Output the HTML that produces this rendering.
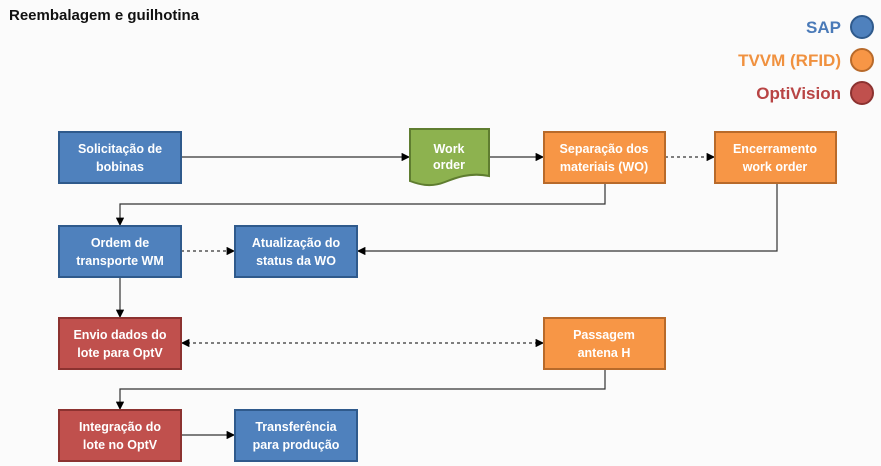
<!DOCTYPE html>
<html><head><meta charset="utf-8"><style>
html,body{margin:0;padding:0;background:#fbfbfb;}
svg{display:block;font-family:"Liberation Sans",sans-serif;}
.t{fill:#fff;font-weight:bold;font-size:12.5px;text-anchor:middle;}
</style></head><body>
<svg width="881" height="466" viewBox="0 0 881 466">
<defs>
<marker id="a" viewBox="0 0 10 10" refX="10" refY="5" markerWidth="7" markerHeight="7" orient="auto-start-reverse"><path d="M0,0L10,5L0,10z" fill="#000"/></marker>
</defs>
<rect width="881" height="466" fill="#fbfbfb"/>
<text x="9" y="20" font-size="15" font-weight="bold" fill="#111">Reembalagem e guilhotina</text>
<g font-size="17" font-weight="bold" text-anchor="end">
<text x="841" y="33" fill="#4a7ab8">SAP</text>
<text x="841" y="66" fill="#f0913f">TVVM (RFID)</text>
<text x="841" y="99" fill="#b84444">OptiVision</text>
</g>
<circle cx="862" cy="27" r="11" fill="#4f81bd" stroke="#2f5a8c" stroke-width="2"/>
<circle cx="862" cy="60" r="11" fill="#f79646" stroke="#b86a2a" stroke-width="2"/>
<circle cx="862" cy="93" r="11" fill="#c0504d" stroke="#8c3230" stroke-width="2"/>

<g stroke="#333" stroke-width="1.2" fill="none">
<line x1="181" y1="157" x2="410" y2="157" marker-end="url(#a)"/>
<line x1="489" y1="157" x2="544" y2="157" marker-end="url(#a)"/>
<line x1="665" y1="157" x2="715" y2="157" stroke-dasharray="3,3" marker-end="url(#a)"/>
<polyline points="605,183 605,204 120,204 120,226" marker-end="url(#a)"/>
<polyline points="777,183 777,251 357,251" marker-end="url(#a)"/>
<line x1="181" y1="251" x2="235" y2="251" stroke-dasharray="3,3" marker-end="url(#a)"/>
<line x1="120" y1="277" x2="120" y2="318" marker-end="url(#a)"/>
<line x1="181" y1="343" x2="544" y2="343" stroke-dasharray="3,3" marker-start="url(#a)" marker-end="url(#a)"/>
<polyline points="605,369 605,389 120,389 120,410" marker-end="url(#a)"/>
<line x1="181" y1="435" x2="235" y2="435" marker-end="url(#a)"/>
</g>

<g stroke-width="2">
<rect x="59" y="132" width="122" height="51" fill="#4f81bd" stroke="#2f5a8c"/>
<rect x="544" y="132" width="121" height="51" fill="#f79646" stroke="#b86a2a"/>
<rect x="715" y="132" width="121" height="51" fill="#f79646" stroke="#b86a2a"/>
<rect x="59" y="226" width="122" height="51" fill="#4f81bd" stroke="#2f5a8c"/>
<rect x="235" y="226" width="122" height="51" fill="#4f81bd" stroke="#2f5a8c"/>
<rect x="59" y="318" width="122" height="51" fill="#c0504d" stroke="#8c3230"/>
<rect x="544" y="318" width="121" height="51" fill="#f79646" stroke="#b86a2a"/>
<rect x="59" y="410" width="122" height="51" fill="#c0504d" stroke="#8c3230"/>
<rect x="235" y="410" width="122" height="51" fill="#4f81bd" stroke="#2f5a8c"/>
<path d="M410,129 L489,129 L489,176 C470,172 455,178 445,182 C430,188 418,184 410,181 Z" fill="#8db24f" stroke="#5f7d30"/>
</g>

<text class="t" x="120" y="153">Solicitação de</text><text class="t" x="120" y="171">bobinas</text>
<text class="t" x="449" y="153">Work</text><text class="t" x="449" y="169">order</text>
<text class="t" x="604" y="153">Separação dos</text><text class="t" x="604" y="171">materiais (WO)</text>
<text class="t" x="775" y="153">Encerramento</text><text class="t" x="775" y="171">work order</text>
<text class="t" x="120" y="247">Ordem de</text><text class="t" x="120" y="265">transporte WM</text>
<text class="t" x="296" y="247">Atualização do</text><text class="t" x="296" y="265">status da WO</text>
<text class="t" x="120" y="339">Envio dados do</text><text class="t" x="120" y="357">lote para OptV</text>
<text class="t" x="604" y="339">Passagem</text><text class="t" x="604" y="357">antena H</text>
<text class="t" x="120" y="431">Integração do</text><text class="t" x="120" y="449">lote no OptV</text>
<text class="t" x="296" y="431">Transferência</text><text class="t" x="296" y="449">para produção</text>
</svg>
</body></html>
